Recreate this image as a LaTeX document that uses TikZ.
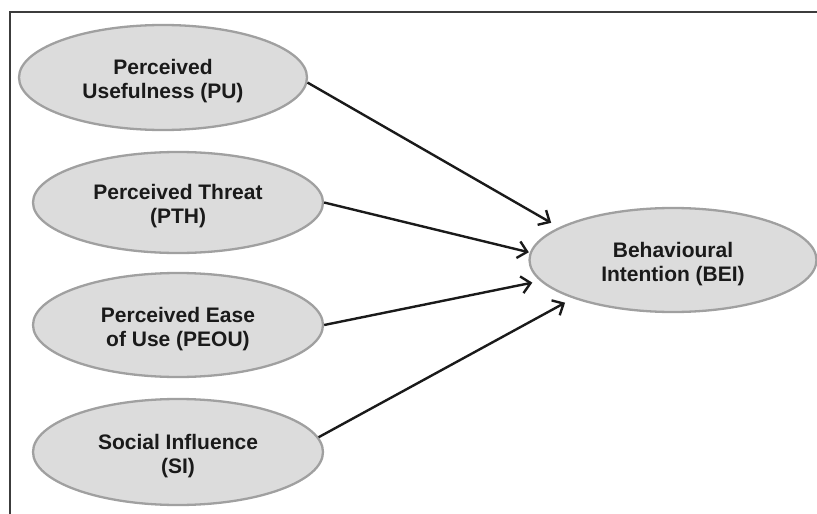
\documentclass[tikz,border=0pt]{standalone}
\usepackage{fontspec}
\setmainfont{Liberation Sans}
\usetikzlibrary{arrows, arrows.meta}
\usetikzlibrary{shapes.geometric}

\definecolor{ovalfill}{HTML}{DCDCDC}
\definecolor{ovalline}{HTML}{A0A0A0}
\definecolor{inkdark}{HTML}{1A1A1A}
\newcommand{\toplift}{\rule{0pt}{23pt}}

\begin{document}
\begin{tikzpicture}[x=1pt, y=-1pt,
    construct/.style={ellipse, draw=ovalline, fill=ovalfill, line width=2.3pt, inner sep=0pt,
      minimum width=290pt, minimum height=104pt, align=center, text=inkdark,
      font=\bfseries\fontsize{21}{24}\selectfont},
    link/.style={draw=inkdark, line width=2.4pt, -{Straight Barb[length=9pt, width=17pt, line width=2.4pt]}}]
      \useasboundingbox (0,0) rectangle (817,514);

      % frame
      \coordinate (frameTL) at (10,12);
      \coordinate (frameTR) at (817,12);
      \coordinate (frameBL) at (10,514);
      \draw[inkdark!85, line width=2.2pt] (frameBL) -- (frameTL) -- (frameTR);

      \node[construct, minimum width=288pt, minimum height=105pt] (PU) at (163,77.5) {\toplift Perceived\\Usefulness (PU)};
      \node[construct, minimum height=101pt] (PTH) at (178,202.5) {\toplift Perceived Threat\\(PTH)};
      \node[construct] (PEOU) at (178,325) {\toplift Perceived Ease\\of Use (PEOU)};
      \node[construct, minimum height=106pt] (SI) at (178,452) {\toplift Social Influence\\(SI)};
      \node[construct, minimum width=287pt] (BEI) at (673,260) {\toplift Behavioural\\Intention (BEI)};

      \draw[link, shorten >=9pt] (PU.-2) -- (BEI.164);
      \draw[link, shorten >=1pt] (PTH.east) -- (BEI.177);
      \draw[link, shorten >=8pt] (PEOU.east) -- (BEI.189.5);
      \draw[link, shorten >=9pt] (SI.6) -- (BEI.201.6);
    \end{tikzpicture}
\end{document}
